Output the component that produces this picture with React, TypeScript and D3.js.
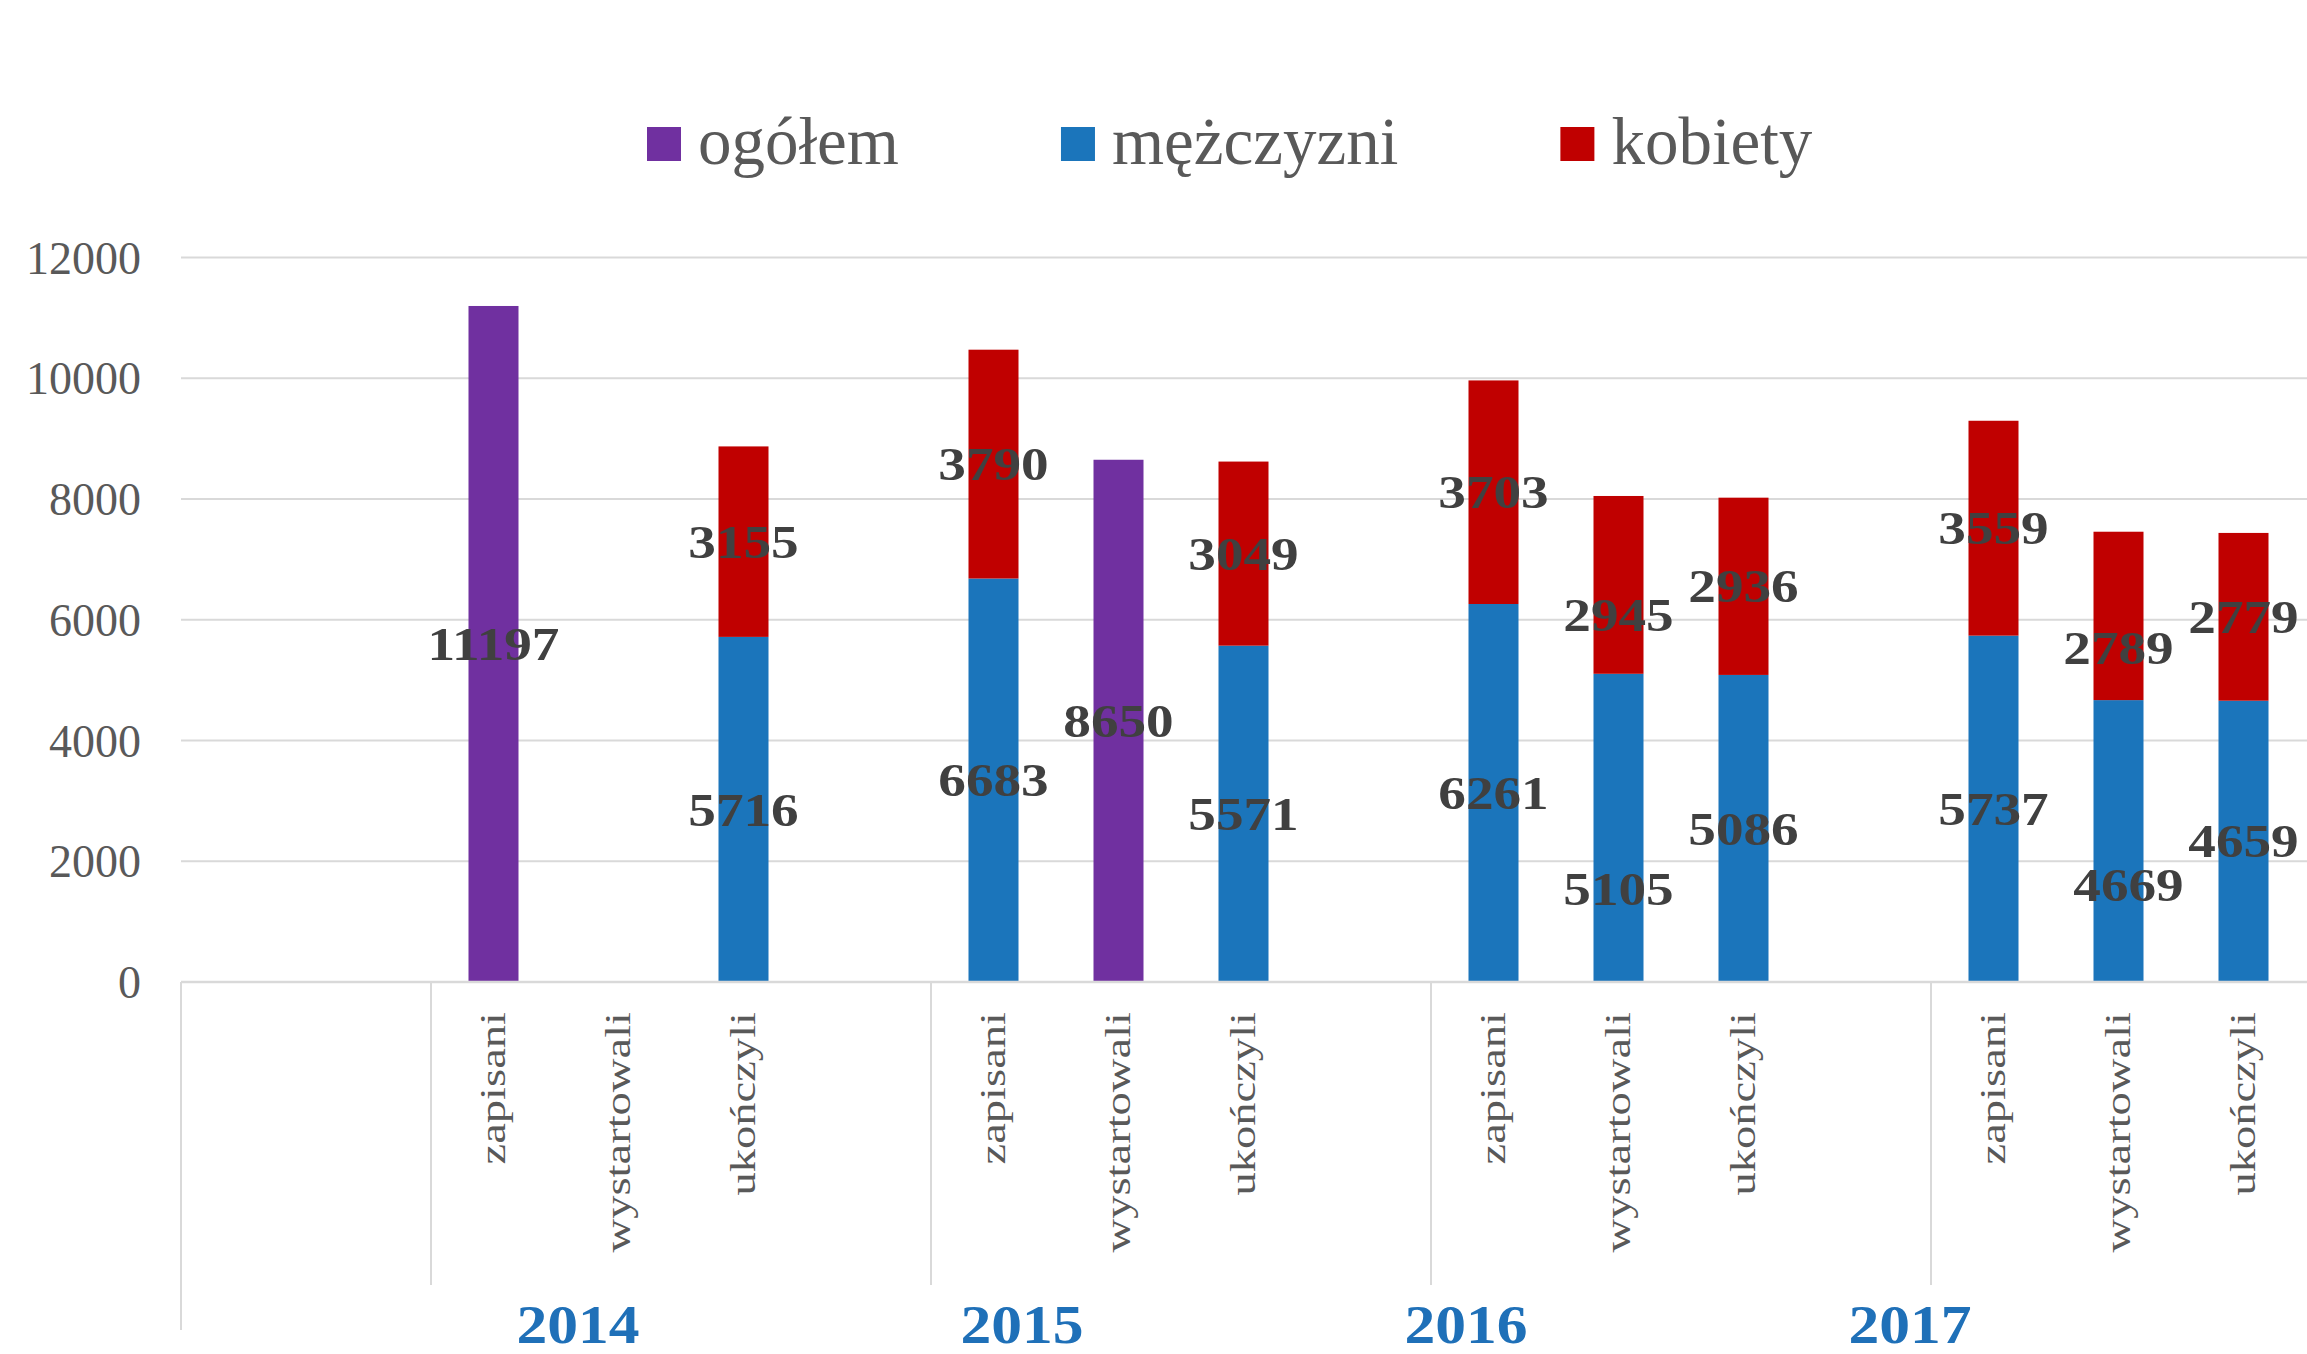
import React, { useEffect, useRef } from "react";
import * as d3 from "d3";

const years = ["2014", "2015", "2016", "2017"];
const stages = ["zapisani", "wystartowali", "ukończyli"];
// values in order year × stage
const ogolem: (number | null)[] = [11197, null, null, null, 8650, null, null, null, null, null, null, null];
const mezczyzni: (number | null)[] = [null, null, 5716, 6683, null, 5571, 6261, 5105, 5086, 5737, 4669, 4659];
const kobiety: (number | null)[] = [null, null, 3155, 3790, null, 3049, 3703, 2945, 2936, 3559, 2789, 2779];
const yTicks = [0, 2000, 4000, 6000, 8000, 10000, 12000];
const legendLabels = ["ogółem", "mężczyzni", "kobiety"];

const W = 2307;
const H = 1354;
const FONT = "'Liberation Serif', 'Times New Roman', serif";
const COLORS = { ogolem: "#7030A0", m: "#1B75BB", k: "#C00000" };
const GRID = "#D9D9D9";
const TXT = "#595959";
const LBL = "#404040";

// manual label nudges (pixels) used in the original for some labels
const labelNudge: Record<string, { dx: number; dy: number }> = {
  "m7": { dx: 0, dy: 61 },
  "k7": { dx: 0, dy: 30 },
  "m10": { dx: 10, dy: 44 },
  "k10": { dx: 0, dy: 32 },
};

export default function App() {
  const ref = useRef<SVGSVGElement>(null);

  useEffect(() => {
    const svg = d3.select(ref.current);
    svg.selectAll("*").remove();

    // slots: 2 leading empty slots, then per year 3 stages + 1 gap
    const slots: string[] = ["pad0", "pad1"];
    years.forEach((yr) => {
      stages.forEach((s) => slots.push(`${yr}|${s}`));
      slots.push(`${yr}|gap`);
    });
    const plotLeft = 181;
    const slotW = 125;
    const x = d3.scaleBand<string>().domain(slots).range([plotLeft, plotLeft + slots.length * slotW]);
    const y = d3.scaleLinear().domain([0, 12000]).range([982, 257.5]);
    const barW = x.bandwidth() * 0.4;

    // gridlines
    svg.append("g")
      .selectAll("line")
      .data(yTicks.filter((t) => t > 0))
      .join("line")
      .attr("x1", plotLeft).attr("x2", W)
      .attr("y1", (d) => y(d)).attr("y2", (d) => y(d))
      .attr("stroke", GRID).attr("stroke-width", 2);

    // y tick labels
    svg.append("g")
      .selectAll("text")
      .data(yTicks)
      .join("text")
      .attr("x", 141).attr("y", (d) => y(d)).attr("dy", "0.35em")
      .attr("text-anchor", "end")
      .attr("font-family", FONT).attr("font-size", 46).attr("fill", TXT)
      .text((d) => String(d));

    // bars
    const bars = svg.append("g");
    const labels: { key: string; cx: number; cy: number; v: number }[] = [];
    const keyFor = (i: number) => `${years[Math.floor(i / 3)]}|${stages[i % 3]}`;
    ogolem.forEach((v, i) => {
      if (v == null) return;
      const bx = x(keyFor(i))! + (x.bandwidth() - barW) / 2;
      bars.append("rect").attr("x", bx).attr("width", barW)
        .attr("y", y(v)).attr("height", y(0) - y(v)).attr("fill", COLORS.ogolem);
      labels.push({ key: `o${i}`, cx: bx + barW / 2, cy: y(v / 2), v });
    });
    mezczyzni.forEach((m, i) => {
      const k = kobiety[i];
      if (m == null) return;
      const bx = x(keyFor(i))! + (x.bandwidth() - barW) / 2;
      bars.append("rect").attr("x", bx).attr("width", barW)
        .attr("y", y(m)).attr("height", y(0) - y(m)).attr("fill", COLORS.m);
      labels.push({ key: `m${i}`, cx: bx + barW / 2, cy: y(m / 2), v: m });
      if (k != null) {
        bars.append("rect").attr("x", bx).attr("width", barW)
          .attr("y", y(m + k)).attr("height", y(m) - y(m + k)).attr("fill", COLORS.k);
        labels.push({ key: `k${i}`, cx: bx + barW / 2, cy: y(m + k / 2), v: k });
      }
    });

    // baseline
    svg.append("line").attr("x1", plotLeft).attr("x2", W)
      .attr("y1", y(0)).attr("y2", y(0)).attr("stroke", GRID).attr("stroke-width", 2.5);

    // data labels
    svg.append("g")
      .selectAll("text")
      .data(labels)
      .join("text")
      .attr("transform", (d) =>
        `translate(${d.cx + (labelNudge[d.key]?.dx ?? 0)},${d.cy + (labelNudge[d.key]?.dy ?? 0)}) scale(1.2,1)`)
      .attr("dy", "0.35em")
      .attr("text-anchor", "middle")
      .attr("font-family", FONT).attr("font-size", 46).attr("font-weight", "bold")
      .attr("fill", LBL)
      .text((d) => String(d.v));

    // category labels (rotated)
    const catSlots = slots.filter((s) => stages.some((st) => s.endsWith("|" + st)));
    svg.append("g")
      .selectAll("text")
      .data(catSlots)
      .join("text")
      .attr("transform", (d) => `translate(${x(d)! + x.bandwidth() / 2},1012) rotate(-90) scale(1.33,1)`)
      .attr("text-anchor", "end")
      .attr("dominant-baseline", "central")
      .attr("font-family", FONT).attr("font-size", 35).attr("fill", TXT)
      .text((d) => d.split("|")[1]);

    // group dividers
    const boundaries = years.map((yr) => x(`${yr}|zapisani`)!);
    svg.append("g")
      .selectAll("line")
      .data(boundaries)
      .join("line")
      .attr("x1", (d) => d).attr("x2", (d) => d)
      .attr("y1", y(0)).attr("y2", 1285)
      .attr("stroke", GRID).attr("stroke-width", 2);
    svg.append("line").attr("x1", plotLeft).attr("x2", plotLeft)
      .attr("y1", y(0)).attr("y2", 1330).attr("stroke", GRID).attr("stroke-width", 2);

    // year labels
    const yearX = d3.scaleBand<string>().domain(years).range([356, 2132]);
    svg.append("g")
      .selectAll("text")
      .data(years)
      .join("text")
      .attr("transform", (d) => `translate(${yearX(d)! + yearX.bandwidth() / 2},1343) scale(1.12,1)`)
      .attr("text-anchor", "middle")
      .attr("font-family", FONT).attr("font-size", 55).attr("font-weight", "bold")
      .attr("fill", "#1F70B8")
      .text((d) => d);

    // legend
    const legendColors = [COLORS.ogolem, COLORS.m, COLORS.k];
    let lx = 647;
    const lg = svg.append("g");
    legendLabels.forEach((lab, i) => {
      lg.append("rect").attr("x", lx).attr("y", 127).attr("width", 34).attr("height", 34)
        .attr("fill", legendColors[i]);
      const t = lg.append("text").attr("x", lx + 51).attr("y", 164)
        .attr("font-family", FONT).attr("font-size", 67).attr("fill", TXT)
        .text(lab);
      const w = (t.node() as SVGTextElement).getComputedTextLength();
      lx = lx + 51 + w + 162;
    });
  }, []);

  return (
    <svg
      ref={ref}
      width={W}
      height={H}
      style={{ position: "absolute", left: 0, top: 0, background: "#fff" }}
    />
  );
}
